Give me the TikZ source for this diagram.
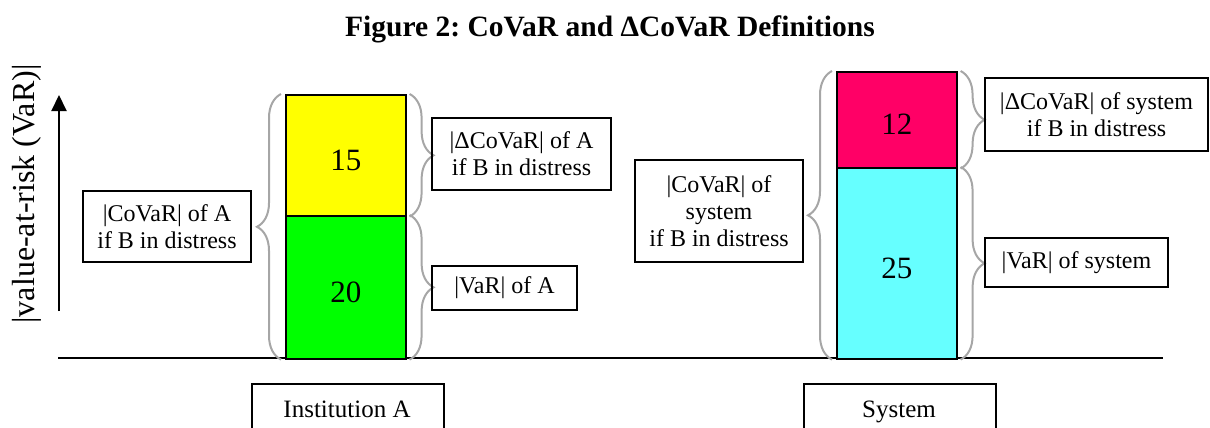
\documentclass[tikz,border=0pt]{standalone}
\usepackage{fontspec}
\setmainfont{Liberation Serif}
\usetikzlibrary{arrows.meta,decorations.pathreplacing}
\frenchspacing

\definecolor{barYellow}{HTML}{FFFF00}
\definecolor{barGreen}{HTML}{00FF00}
\definecolor{barPink}{HTML}{FF0066}
\definecolor{barCyan}{HTML}{66FFFF}
\definecolor{braceGray}{HTML}{A6A6A6}

\tikzset{
  bar/.style={draw=black, line width=1.6pt, inner sep=0pt, minimum width=120pt,
    anchor=north west, text height=30pt, text depth=0pt,
    font=\fontsize{31}{33}\selectfont},
  labelbox/.style={draw=black, line width=1.5pt, align=center, inner sep=0pt,
    font=\fontsize{24}{27}\selectfont},
  catbox/.style={draw=black, line width=1.5pt, inner sep=0pt, anchor=north west,
    minimum width=192pt, minimum height=80pt, text depth=0pt},
  bracket/.style={draw=braceGray, line width=2pt,
    decorate, decoration={brace, amplitude=24pt}},
}

\begin{document}
\begin{tikzpicture}[x=1pt, y=-1pt]
\useasboundingbox (0,0) rectangle (1210,428);

% title
\node[font=\bfseries\fontsize{29.5}{31}\selectfont] (title) at (610,29)
  {Figure 2: CoVaR and ΔCoVaR Definitions};

% vertical axis and its label
\coordinate (ax0) at (59,311);
\coordinate (ax1) at (59,95);
\draw[line width=2pt, -{Triangle[width=15pt,length=16pt]}] (ax0) -- (ax1);
\node[rotate=90, font=\fontsize{32}{34}\selectfont] (axlabel) at (27,194)
  {|value-at-risk (VaR)|};

% ground line
\coordinate (g0) at (58,358);
\coordinate (g1) at (1163,358);
\draw[line width=1.6pt] (g0) -- (g1);

% stacked bars
\node[bar, fill=barYellow, minimum height=121pt] (aTop) at (285,94) {15};
\node[bar, fill=barGreen,  minimum height=143pt] (aBot) at (285,215) {20};
\node[bar, fill=barPink,   minimum height=96pt]  (sTop) at (836,71) {12};
\node[bar, fill=barCyan,   minimum height=191pt] (sBot) at (836,167) {25};

% braces
\draw[bracket] ([xshift=-4pt]aBot.south west) -- ([xshift=-4pt]aTop.north west);
\draw[bracket] ([xshift=3pt]aTop.north east) -- ([xshift=3pt]aTop.south east);
\draw[bracket] ([xshift=3pt]aBot.north east) -- ([xshift=3pt]aBot.south east);
\draw[bracket] ([xshift=-4pt]sBot.south west) -- ([xshift=-4pt]sTop.north west);
\draw[bracket] ([xshift=3pt]sTop.north east) -- ([xshift=3pt]sTop.south east);
\draw[bracket] ([xshift=3pt]sBot.north east) -- ([xshift=3pt]sBot.south east);

% explanation boxes
\node[labelbox, minimum width=168pt, minimum height=71pt] (coA) at (167,226.5)
  {|CoVaR| of A\\if B in distress};
\node[labelbox, minimum width=179pt, minimum height=72pt] (dA) at (521.5,154)
  {|ΔCoVaR| of A\\if B in distress};
\node[labelbox, minimum width=145pt, minimum height=44pt] (vA) at (504.5,288)
  {|VaR| of A};
\node[labelbox, minimum width=168pt, minimum height=102pt] (coS) at (719,211)
  {|CoVaR| of\\system\\if B in distress};
\node[labelbox, minimum width=223pt, minimum height=73pt] (dS) at (1096.5,114.5)
  {|ΔCoVaR| of system\\if B in distress};
\node[labelbox, minimum width=183pt, minimum height=49pt] (vS) at (1076.5,262.5)
  {|VaR| of system};

% category boxes below the ground line
\node[catbox] (instA) at (251,383) {};
\node[font=\fontsize{25}{27}\selectfont, anchor=base] (instAtxt) at (347,417) {Institution A};
\node[catbox] (sys) at (803,383) {};
\node[font=\fontsize{25}{27}\selectfont, anchor=base] (systxt) at (899,417) {System};
\end{tikzpicture}
\end{document}
